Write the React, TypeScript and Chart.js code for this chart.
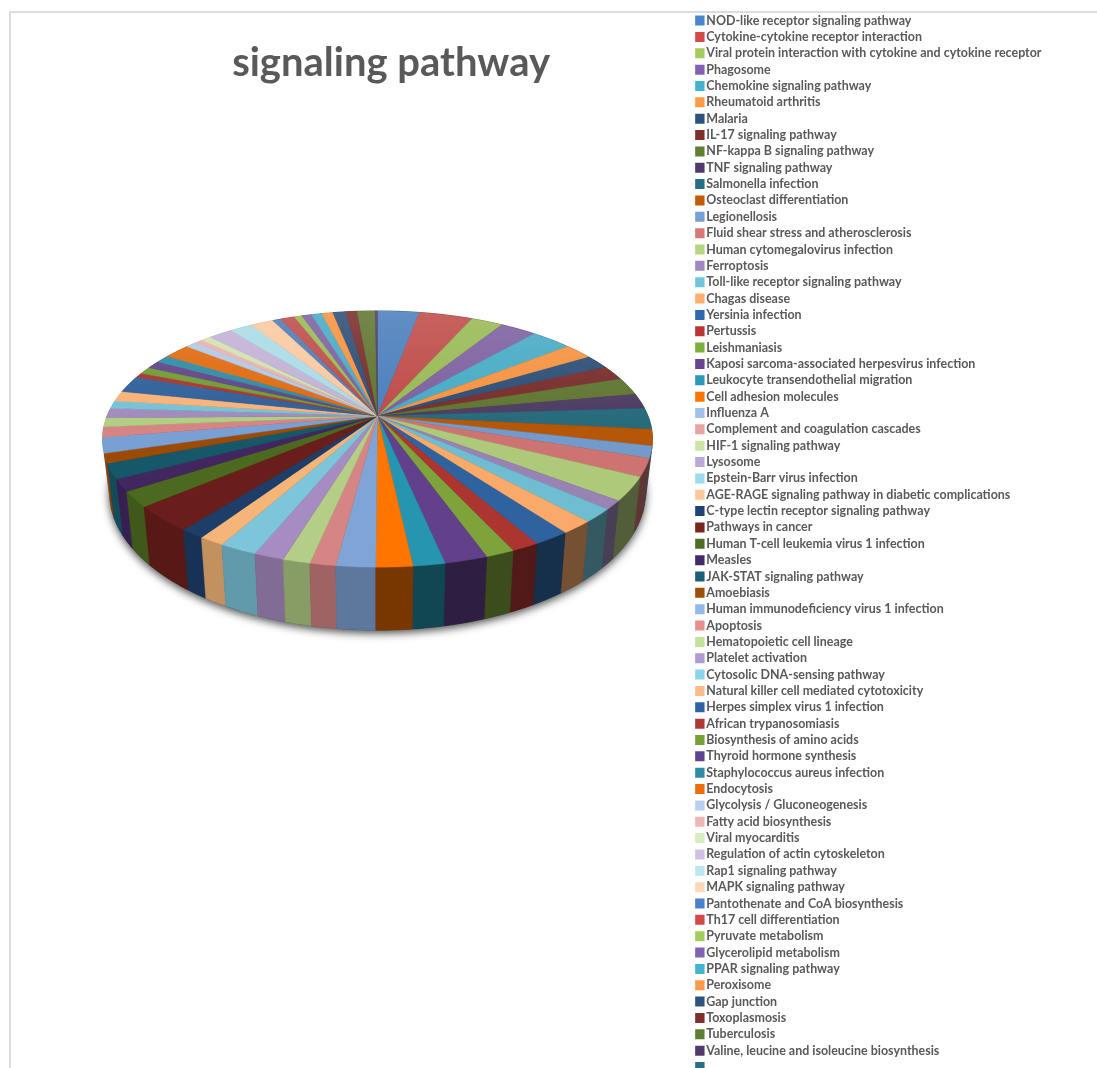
import React, { useEffect, useRef } from "react";
import { Chart, registerables } from "chart.js";

Chart.register(...registerables);

const pathways = [
  "NOD-like receptor signaling pathway", "Cytokine-cytokine receptor interaction",
  "Viral protein interaction with cytokine and cytokine receptor", "Phagosome",
  "Chemokine signaling pathway", "Rheumatoid arthritis", "Malaria", "IL-17 signaling pathway",
  "NF-kappa B signaling pathway", "TNF signaling pathway", "Salmonella infection",
  "Osteoclast differentiation", "Legionellosis", "Fluid shear stress and atherosclerosis",
  "Human cytomegalovirus infection", "Ferroptosis", "Toll-like receptor signaling pathway",
  "Chagas disease", "Yersinia infection", "Pertussis", "Leishmaniasis",
  "Kaposi sarcoma-associated herpesvirus infection", "Leukocyte transendothelial migration",
  "Cell adhesion molecules", "Influenza A", "Complement and coagulation cascades",
  "HIF-1 signaling pathway", "Lysosome", "Epstein-Barr virus infection",
  "AGE-RAGE signaling pathway in diabetic complications", "C-type lectin receptor signaling pathway",
  "Pathways in cancer", "Human T-cell leukemia virus 1 infection", "Measles",
  "JAK-STAT signaling pathway", "Amoebiasis", "Human immunodeficiency virus 1 infection",
  "Apoptosis", "Hematopoietic cell lineage", "Platelet activation", "Cytosolic DNA-sensing pathway",
  "Natural killer cell mediated cytotoxicity", "Herpes simplex virus 1 infection",
  "African trypanosomiasis", "Biosynthesis of amino acids", "Thyroid hormone synthesis",
  "Staphylococcus aureus infection", "Endocytosis", "Glycolysis / Gluconeogenesis",
  "Fatty acid biosynthesis", "Viral myocarditis", "Regulation of actin cytoskeleton",
  "Rap1 signaling pathway", "MAPK signaling pathway", "Pantothenate and CoA biosynthesis",
  "Th17 cell differentiation", "Pyruvate metabolism", "Glycerolipid metabolism",
  "PPAR signaling pathway", "Peroxisome", "Gap junction", "Toxoplasmosis", "Tuberculosis",
  "Valine, leucine and isoleucine biosynthesis", "",
];

const sliceValues = [
  10.5, 13.5, 8.0, 9.1, 10.3, 7.3, 6.3, 6.6, 8.0, 6.8, 9.6, 7.4, 5.3, 8.2, 10.6, 4.0,
  6.1, 6.0, 6.6, 5.0, 5.2, 7.7, 5.7, 6.5, 7.0, 4.6, 4.9, 5.4, 6.8, 4.6, 4.4, 11.7,
  7.0, 5.4, 7.0, 4.3, 7.0, 4.7, 4.1, 4.4, 3.5, 4.7, 7.5, 2.2, 3.2, 3.6, 3.5, 6.7,
  2.8, 2.0, 2.5, 6.1, 5.7, 5.7, 2.1, 3.6, 1.9, 2.5, 2.6, 2.8, 3.2, 2.9, 4.5, 0.6, 0,
];

const sliceColors = [
  "#4a7ebb", "#be4b48", "#98b954", "#7d60a0", "#46aac5", "#f69240",
  "#2c4d75", "#772c2a", "#5f7530", "#4d3b62", "#276a7c", "#b65708",
  "#729aca", "#cd7371", "#afc97a", "#9983b5", "#6fbdd1", "#f9aa6b",
  "#2f63a0", "#ad3530", "#7da33a", "#62408a", "#2595b0", "#ff7500",
  "#7fa5d6", "#d68585", "#b4ce87", "#a68cc0", "#7cc5da", "#f5b478",
  "#1d3e68", "#6a1e1b", "#4c6a1f", "#41265f", "#17576a", "#9c4a04",
  "#78a0d4", "#d78484", "#b1ce83", "#a18bbd", "#76c2d6", "#f9b278",
  "#2f5f9a", "#a5342f", "#6f9a33", "#5f4486", "#2e8aa5", "#e06a0f",
  "#afc9e6", "#e9b0af", "#d2e1af", "#c2b2d6", "#aadbe6", "#fac9a0",
  "#4f7bb5", "#be4b48", "#98b954", "#7d60a0", "#46aac5", "#f69240",
  "#2c4d75", "#772c2a", "#5f7530", "#4d3b62", "#276a7c",
];

// Legend keys are flat and read a little brighter than the shaded pie faces
const legendColors = [
  "#4a85cc", "#d24a48", "#a2cc5c", "#8260b4", "#46b2d2", "#ff9a48",
  "#2e527f", "#802f2d", "#5f8033", "#4f3c6a", "#286f85", "#c25c08",
  "#76a1d8", "#d97876", "#b5d680", "#a088c0", "#72c5dc", "#ffb070",
  "#2e68b0", "#ba3632", "#7db03a", "#66448f", "#2b98b8", "#ff7300",
  "#a4c0ea", "#e8a2a2", "#cbe5a4", "#baa8d6", "#9cdaee", "#fcc79a",
  "#1f4374", "#782420", "#4f7024", "#422a66", "#1a5f74", "#a04e05",
  "#93b8ea", "#e78e8e", "#c3e29a", "#b09ad2", "#8cd4ea", "#fcbc88",
  "#2e62a6", "#ad3836", "#76a03a", "#5e4490", "#2e8ca8", "#ee6d0a",
  "#b8d0f0", "#f0b6b6", "#d8ecc0", "#cfc0e4", "#bce6f0", "#fcd8b8",
  "#4a80cc", "#d24a48", "#a2cc5c", "#8260b4", "#46b2d2", "#ff9a48",
  "#2e527f", "#802f2d", "#5f8033", "#4f3c6a", "#286f85",
];

const chartTitle = "signaling pathway";

// Perspective used to tilt the disc: the circle's centre lands at (cx, cy)
const tilt = { cx: 377.5, cy: 416, rx: 270.5, ry: 124, k: 0.18, depth: 51.7, baseScale: 0.975 };

const rimPoint = (angle: number) => {
  const u = Math.cos(angle);
  const v = Math.sin(angle);
  const s = 1 / (1 - tilt.k * v);
  return { x: tilt.cx + tilt.rx * u * s, y: tilt.cy + tilt.ry * v * s, s };
};

const basePoint = (angle: number) => {
  const p = rimPoint(angle);
  return { x: tilt.cx + (p.x - tilt.cx) * tilt.baseScale, y: p.y + tilt.depth * p.s };
};

const shade = (hex: string, f: number) => {
  const n = parseInt(hex.slice(1), 16);
  const c = [(n >> 16) & 255, (n >> 8) & 255, n & 255].map((x) => Math.round(x * f));
  return `rgb(${c[0]},${c[1]},${c[2]})`;
};

const arcSteps = (a0: number, a1: number) => {
  const n = Math.max(2, Math.ceil((a1 - a0) / (Math.PI / 180)));
  return Array.from({ length: n + 1 }, (_, i) => a0 + ((a1 - a0) * i) / n);
};

// Replaces the flat arc drawing: each arc element keeps the angles the pie
// controller computed, and is painted as a tilted wedge with an extruded rim.
const tiltedPie = {
  id: "tiltedPie",
  beforeDatasetsDraw(chart: any) {
    const { ctx } = chart;
    const arcs = chart.getDatasetMeta(0).data
      .map((el: any, i: number) => ({ a0: el.startAngle, a1: el.endAngle, color: sliceColors[i] }))
      .filter((s: any) => s.a1 - s.a0 > 1e-6);

    ctx.save();

    // soft drop shadow under the disc
    ctx.save();
    ctx.shadowColor = "rgba(0,0,0,0.7)";
    ctx.shadowBlur = 9;
    ctx.shadowOffsetY = 3;
    ctx.fillStyle = "#333";
    ctx.beginPath();
    arcSteps(0, Math.PI * 2).forEach((a, i) => {
      const p = basePoint(a);
      i ? ctx.lineTo(p.x, p.y) : ctx.moveTo(p.x, p.y);
    });
    ctx.closePath();
    ctx.fill();
    ctx.restore();

    // rim walls, back to front
    const byDepth = [...arcs].sort(
      (a: any, b: any) => Math.sin((a.a0 + a.a1) / 2) - Math.sin((b.a0 + b.a1) / 2),
    );
    byDepth.forEach((s: any) => {
      const mid = (s.a0 + s.a1) / 2;
      const u = Math.cos(mid);
      const f = u >= 0 ? 0.47 : 0.72 + 0.15 * Math.abs(u);
      const steps = arcSteps(s.a0, s.a1);
      ctx.beginPath();
      steps.forEach((a, i) => {
        const p = rimPoint(a);
        i ? ctx.lineTo(p.x, p.y) : ctx.moveTo(p.x, p.y);
      });
      [...steps].reverse().forEach((a) => {
        const p = basePoint(a);
        ctx.lineTo(p.x, p.y);
      });
      ctx.closePath();
      ctx.fillStyle = shade(s.color, f);
      ctx.strokeStyle = ctx.fillStyle;
      ctx.lineWidth = 0.5;
      ctx.fill();
      ctx.stroke();
    });

    // top face
    arcs.forEach((s: any) => {
      ctx.beginPath();
      ctx.moveTo(tilt.cx, tilt.cy);
      arcSteps(s.a0, s.a1).forEach((a) => {
        const p = rimPoint(a);
        ctx.lineTo(p.x, p.y);
      });
      ctx.closePath();
      ctx.fillStyle = s.color;
      ctx.strokeStyle = s.color;
      ctx.lineWidth = 0.4;
      ctx.fill();
      ctx.stroke();
    });

    // faint sheen towards the far edge
    const sheen = ctx.createLinearGradient(0, tilt.cy - 105, 0, tilt.cy + 10);
    sheen.addColorStop(0, "rgba(255,255,255,0.13)");
    sheen.addColorStop(1, "rgba(255,255,255,0)");
    ctx.beginPath();
    arcSteps(0, Math.PI * 2).forEach((a, i) => {
      const p = rimPoint(a);
      i ? ctx.lineTo(p.x, p.y) : ctx.moveTo(p.x, p.y);
    });
    ctx.closePath();
    ctx.fillStyle = sheen;
    ctx.fill();

    ctx.restore();
    return false;
  },
};

export default function App() {
  const canvasRef = useRef<HTMLCanvasElement>(null);

  useEffect(() => {
    const chart = new Chart(canvasRef.current!, {
      type: "pie",
      data: {
        labels: pathways,
        datasets: [{ data: sliceValues, backgroundColor: sliceColors, borderWidth: 0 }],
      },
      options: {
        responsive: false,
        animation: false,
        events: [],
        layout: { padding: { left: 87, right: 45.5, top: 10.5, bottom: 0 } },
        plugins: {
          tooltip: { enabled: false },
          title: {
            display: true,
            text: chartTitle,
            fullSize: false,
            color: "#595959",
            font: { family: "Lato", size: 40, weight: "bold" },
            padding: { top: 28.5, bottom: 0 },
          },
          legend: {
            display: true,
            position: "right",
            align: "start",
            labels: {
              color: "#595959",
              font: { family: "Lato", size: 12.46, weight: "bold" },
              padding: 3.89,
              usePointStyle: true,
              pointStyle: "rect",
              boxWidth: 1,
              boxHeight: 10,
              generateLabels(c: any) {
                const items = (Chart as any).overrides.pie.plugins.legend.labels.generateLabels(c);
                return items.map((item: any, i: number) => ({
                  ...item,
                  fillStyle: legendColors[i],
                  strokeStyle: legendColors[i],
                }));
              },
            },
          },
        },
      } as any,
      plugins: [tiltedPie],
    });
    return () => chart.destroy();
  }, []);

  return (
    <div style={{ position: "absolute", left: 0, top: 0, width: 1097, height: 1068, overflow: "hidden", background: "#fff" }}>
      <div
        style={{
          position: "absolute",
          left: 9,
          top: 11,
          right: 0,
          bottom: 0,
          borderLeft: "2px solid #dcdcdc",
          borderTop: "2px solid #dcdcdc",
        }}
      />
      <canvas ref={canvasRef} width={1097} height={1110} style={{ position: "absolute", left: 0, top: 0, display: "block" }} />
    </div>
  );
}
